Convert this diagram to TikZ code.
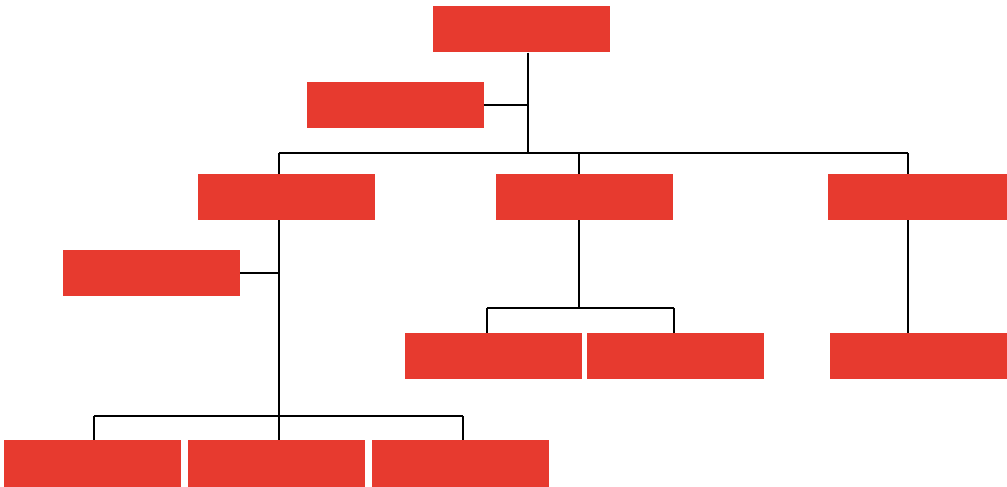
\documentclass[tikz,border=0pt]{standalone}
\definecolor{boxred}{RGB}{231,58,47}
\begin{document}
\begin{tikzpicture}[x=1pt,y=-1pt,
  box/.style={fill=boxred,draw=none,inner sep=0pt,minimum width=177pt,minimum height=46pt},
  link/.style={draw=black,line width=2.2pt}]
\useasboundingbox (0,0) rectangle (1007,487);
% boxes
\node[box] (t) at (521,29.5) {};
\node[box] (s1) at (395,105) {};
\node[box] (a) at (286.5,197) {};
\node[box] (b) at (584,197) {};
\node[box,minimum width=179pt] (c) at (917.5,197) {};
\node[box] (s2) at (151.5,273) {};
\node[box] (e1) at (493.5,356) {};
\node[box] (e2) at (675,356) {};
\node[box] (g) at (918.5,356) {};
\node[box,minimum height=47pt] (d1) at (92.5,463.5) {};
\node[box,minimum height=47pt] (d2) at (276.5,463.5) {};
\node[box,minimum height=47pt] (d3) at (460.5,463.5) {};
% junction coordinates
\coordinate (jtop) at (528,153);
\coordinate (ja) at (279,153);
\coordinate (jb) at (579,153);
\coordinate (jc) at (908,153);
\coordinate (ka) at (279,416);
\coordinate (kl) at (94,416);
\coordinate (kr) at (463,416);
\coordinate (kb) at (579,308);
\coordinate (kbl) at (487,308);
\coordinate (kbr) at (674,308);
% connectors
\path[link] (t.south -| jtop) -- (jtop);
\path[link] (s1.east) -- (s1.east -| jtop);
\path[link] (ja) -- (jc);
\path[link] (ja) -- (ja |- a.north);
\path[link] (jb) -- (jb |- b.north);
\path[link] (jc) -- (jc |- c.north);
\path[link] (ka |- a.south) -- (ka);
\path[link] (s2.east) -- (s2.east -| ka);
\path[link] (kl) -- (kr);
\path[link] (kl) -- (kl |- d1.north);
\path[link] (ka) -- (ka |- d2.north);
\path[link] (kr) -- (kr |- d3.north);
\path[link] (kb |- b.south) -- (kb);
\path[link] (kbl) -- (kbr);
\path[link] (kbl) -- (kbl |- e1.north);
\path[link] (kbr) -- (kbr |- e2.north);
\path[link] (jc |- c.south) -- (jc |- g.north);
\end{tikzpicture}
\end{document}
